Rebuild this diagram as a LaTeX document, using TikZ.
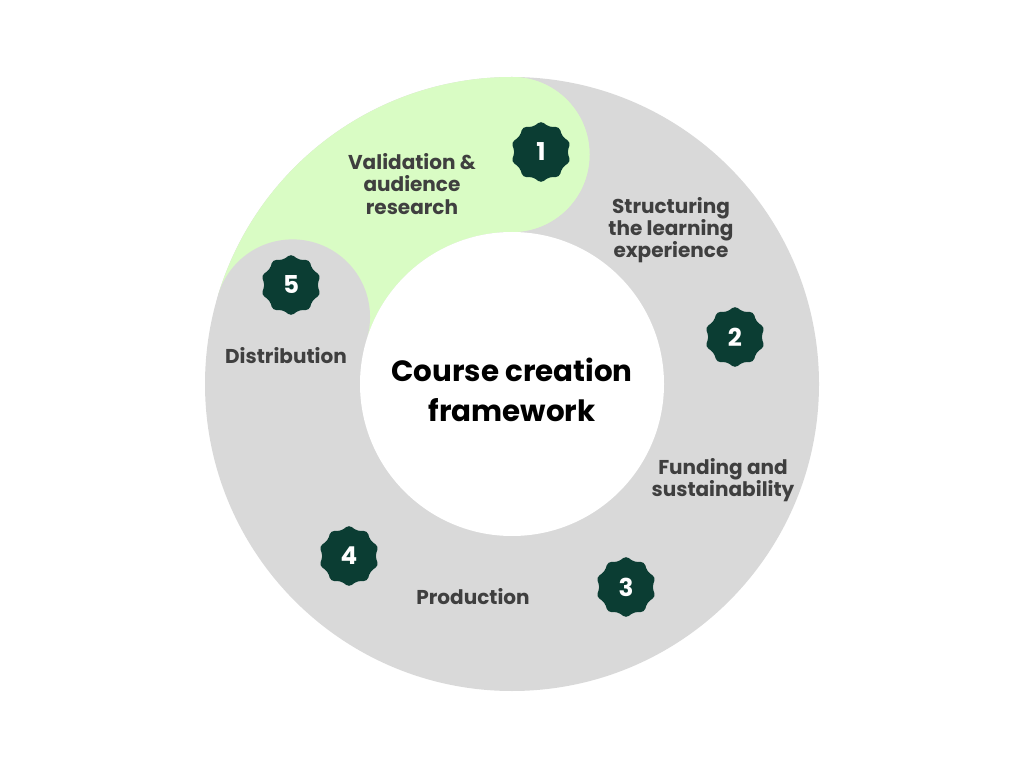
\documentclass[tikz,border=0pt]{standalone}
\usepackage{fontspec}
\setmainfont{Poppins}
\usetikzlibrary{shapes.geometric,calc}
\definecolor{ringgray}{HTML}{D9D9D9}
\definecolor{ringgreen}{HTML}{D9FCC4}
\definecolor{badgegreen}{HTML}{0B3D33}
\definecolor{labelgray}{HTML}{3F3F3F}
\tikzset{
  badge/.style={star, star points=10, star point ratio=1.18, minimum size=62*0.02cm, fill=badgegreen, rounded corners=2pt, text=white, font=\bfseries\fontsize{14}{16}\selectfont, inner sep=0pt},
  lbl/.style={align=center, text=labelgray, font=\bfseries\fontsize{11.4}{12.6}\selectfont}
}
\begin{document}
\begin{tikzpicture}[x=0.02cm,y=0.02cm]
\useasboundingbox (0,0) rectangle (1024,768);
\coordinate (c) at (512,384);
\fill[ringgray] (c) circle (307);
\fill[ringgreen] ($(c)+(163:307)$) arc (163:90:307) arc (90:-90:77.5) arc (90:163:152) -- cycle;
\fill[ringgreen] ($(c)+(90:229.5)$) circle (77.5);
\fill[ringgray] ($(c)+(163:229.5)$) circle (77.5);
\fill[white] (c) circle (152);
\node[font=\bfseries\fontsize{16.7}{23}\selectfont, align=center] (title) at (512,378) {Course creation\\framework};
\node[lbl] (l1) at (412,584) {Validation \&\\audience\\research};
\node[lbl] (l2) at (671,538) {Structuring\\the learning\\experience};
\node[lbl] (l3) at (723,288) {Funding and\\sustainability};
\node[lbl] (l4) at (473,171) {Production};
\node[lbl] (l5) at (286,412) {Distribution};
\node[badge] (b1) at (541,616) {1};
\node[badge] (b2) at (735,431) {2};
\node[badge] (b3) at (626,181) {3};
\node[badge] (b4) at (349,212) {4};
\node[badge] (b5) at (291,483) {5};
\end{tikzpicture}
\end{document}
